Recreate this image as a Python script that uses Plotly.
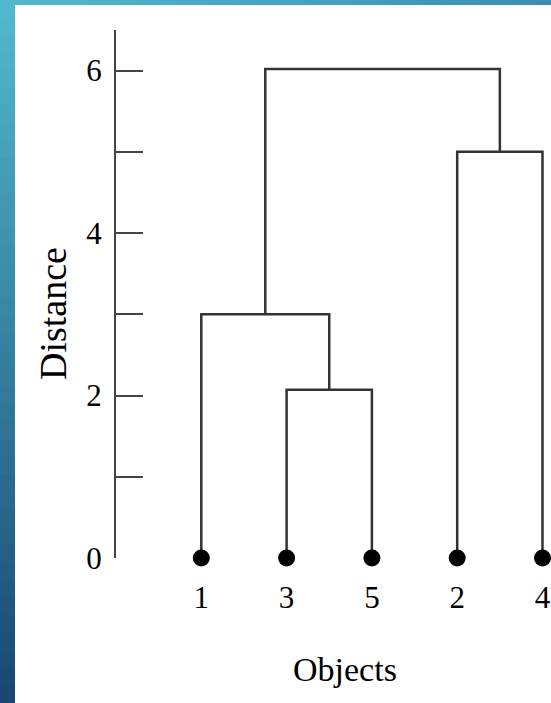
import plotly.graph_objects as go

# ---- data ----
leaf_labels = ["1", "3", "5", "2", "4"]
# merges: (left child, right child, height); children are leaf labels or merge names
merge_names = ["A", "B", "C", "D"]
merge_left = ["3", "1", "2", "B"]
merge_right = ["5", "A", "4", "C"]
merge_height = [2.07, 3.0, 5.0, 6.02]
y_tick_vals = [0, 1, 2, 3, 4, 5, 6]
y_tick_text = ["0", "", "2", "", "4", "", "6"]
x_title = "Objects"
y_title = "Distance"

# ---- build dendrogram geometry from the linkage ----
pos = {lab: i + 1 for i, lab in enumerate(leaf_labels)}
hgt = {lab: 0.0 for lab in leaf_labels}
line_col = "#333333"
fig = go.Figure()
for name, l, r, h in zip(merge_names, merge_left, merge_right, merge_height):
    xl, xr = pos[l], pos[r]
    fig.add_trace(go.Scatter(
        x=[xl, xl, xr, xr], y=[hgt[l], h, h, hgt[r]],
        mode="lines", line=dict(color=line_col, width=2.5),
        hoverinfo="skip", showlegend=False, cliponaxis=False))
    pos[name] = (xl + xr) / 2
    hgt[name] = h

fig.add_trace(go.Scatter(
    x=[pos[l] for l in leaf_labels], y=[0] * len(leaf_labels),
    mode="markers", marker=dict(color="black", size=17),
    hoverinfo="skip", showlegend=False, cliponaxis=False))

# ---- decorative background strips ----
shapes = []
W, H = 551, 703
L, T, B = 116, 30, 145
pw, ph = W - L, H - T - B

def px_x(p):
    return (p - L) / pw

def px_y(p):
    return (H - B - p) / ph

def mix(c1, c2, t):
    return "rgb(%d,%d,%d)" % tuple(round(a + (b - a) * t) for a, b in zip(c1, c2))

top_c = (82, 184, 205)
bot_c = (26, 72, 114)
right_c = (58, 143, 176)
n = 40
for i in range(n):
    y0 = H * i / n
    y1 = H * (i + 1) / n + 1
    shapes.append(dict(type="rect", xref="paper", yref="paper",
                       x0=px_x(0), x1=px_x(15), y0=px_y(y1), y1=px_y(y0),
                       fillcolor=mix(top_c, bot_c, i / (n - 1)), line=dict(width=0), layer="below"))
for i in range(n):
    x0 = 15 + (W - 15) * i / n
    x1 = 15 + (W - 15) * (i + 1) / n + 1
    shapes.append(dict(type="rect", xref="paper", yref="paper",
                       x0=px_x(x0), x1=px_x(x1), y0=px_y(5), y1=px_y(0),
                       fillcolor=mix(top_c, right_c, i / (n - 1)), line=dict(width=0), layer="below"))

font_fam = "Liberation Serif, Times New Roman, serif"
fig.update_layout(
    width=W, height=H,
    margin=dict(l=L, r=0, t=T, b=B),
    paper_bgcolor="white", plot_bgcolor="white",
    font=dict(family=font_fam, color="#000", size=31),
    shapes=shapes,
    xaxis=dict(range=[0, pw / 85.3], showline=False, showgrid=False, zeroline=False,
               tickvals=[pos[l] for l in leaf_labels], ticktext=leaf_labels,
               ticks="", ticklabelstandoff=18, fixedrange=True),
    yaxis=dict(range=[0, 6.5], showline=True, linecolor="#444", linewidth=2,
               showgrid=False, zeroline=False,
               tickvals=y_tick_vals, ticktext=y_tick_text,
               ticks="inside", ticklen=27, tickwidth=2, tickcolor="#444",
               ticklabelstandoff=6, fixedrange=True),
    annotations=[
        dict(text=x_title, xref="paper", yref="paper", x=px_x(345), y=px_y(669),
             xanchor="center", yanchor="middle",
             showarrow=False, font=dict(size=34, family=font_fam, color="#000")),
        dict(text=y_title, xref="paper", yref="paper", x=px_x(53), y=px_y(313),
             xanchor="center", yanchor="middle",
             showarrow=False, textangle=-90, font=dict(size=38, family=font_fam, color="#000")),
    ],
)

fig.write_html("out.html", config={"displayModeBar": False},
               post_script="document.body.style.margin='0';")
